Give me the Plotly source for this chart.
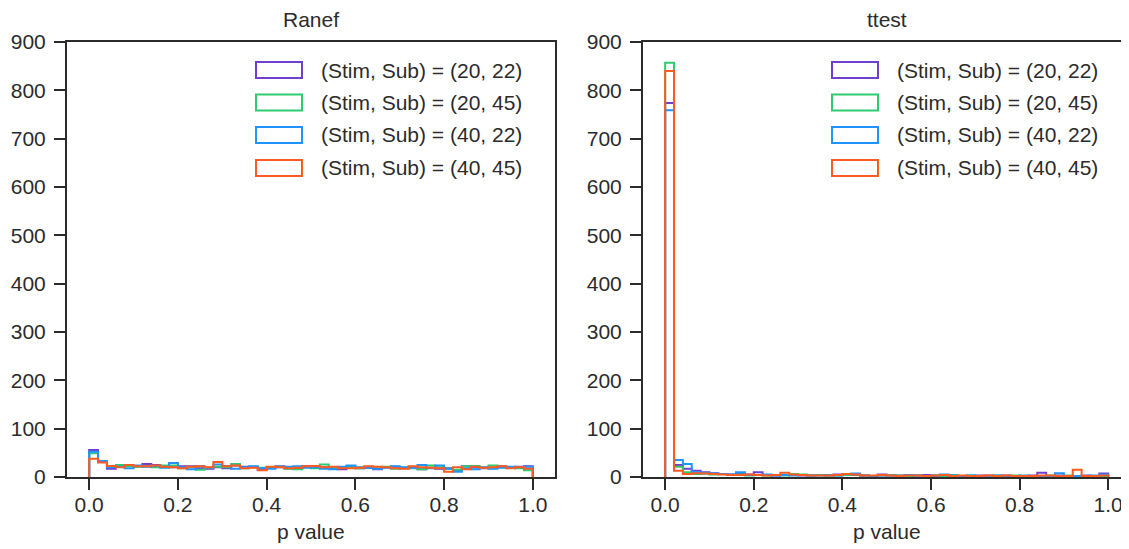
import numpy as np
import plotly.graph_objects as go
from plotly.subplots import make_subplots

# 50 bins over the p value range [0, 1]
bin_edges = np.linspace(0, 1, 51)

labels = ['(Stim, Sub) = (20, 22)', '(Stim, Sub) = (20, 45)',
          '(Stim, Sub) = (40, 22)', '(Stim, Sub) = (40, 45)']
colors = ['#6f3fd0', '#2ecc71', '#1f93ff', '#ff5a1f']

# counts per bin, Ranef panel
ranef_20_22 = [56, 31, 17, 22, 24, 22, 27, 25, 22, 20, 22, 22, 18, 17, 20, 18, 24, 21, 20, 15,
               20, 22, 18, 17, 22, 19, 20, 18, 16, 22, 18, 19, 16, 20, 21, 18, 20, 16, 19, 17,
               18, 14, 22, 20, 18, 19, 22, 20, 21, 22]
ranef_20_45 = [49, 32, 22, 25, 23, 21, 22, 20, 24, 24, 18, 20, 15, 19, 21, 20, 27, 18, 21, 19,
               20, 21, 17, 16, 20, 18, 26, 19, 20, 20, 18, 21, 18, 21, 17, 19, 18, 16, 24, 20,
               17, 15, 22, 23, 19, 24, 20, 19, 18, 14]
ranef_40_22 = [52, 33, 20, 21, 18, 24, 21, 23, 19, 29, 20, 16, 22, 19, 26, 23, 17, 20, 22, 18,
               17, 20, 21, 22, 19, 20, 17, 16, 21, 24, 20, 19, 17, 19, 22, 20, 19, 25, 18, 24,
               17, 11, 18, 16, 20, 17, 19, 21, 20, 21]
ranef_40_45 = [38, 30, 23, 20, 25, 22, 22, 24, 21, 20, 18, 21, 22, 20, 31, 22, 24, 18, 19, 14,
               21, 20, 18, 19, 22, 23, 20, 21, 18, 18, 19, 22, 21, 20, 18, 17, 22, 20, 19, 18,
               11, 20, 16, 21, 19, 20, 22, 18, 20, 17]

# counts per bin, ttest panel
ttest_20_22 = [774, 25, 17, 13, 10, 8, 6, 5, 6, 5, 10, 4, 3, 4, 5, 3, 3, 4, 3, 5,
               5, 4, 3, 2, 5, 3, 3, 2, 3, 4, 2, 3, 4, 2, 2, 3, 3, 2, 3, 2,
               2, 3, 9, 2, 3, 2, 2, 3, 2, 7]
ttest_20_45 = [857, 21, 10, 6, 7, 5, 6, 4, 5, 3, 4, 3, 4, 3, 6, 5, 3, 4, 3, 3,
               4, 5, 3, 2, 3, 4, 3, 2, 3, 2, 3, 2, 4, 2, 3, 2, 2, 3, 2, 3,
               2, 2, 2, 3, 2, 3, 2, 2, 2, 2]
ttest_40_22 = [759, 35, 27, 10, 8, 7, 6, 5, 10, 4, 4, 5, 3, 4, 3, 4, 3, 3, 4, 3,
               6, 7, 3, 2, 3, 3, 2, 4, 3, 2, 3, 5, 3, 2, 3, 2, 2, 3, 2, 2,
               3, 2, 2, 2, 8, 2, 2, 2, 3, 5]
ttest_40_45 = [840, 13, 6, 8, 7, 6, 5, 4, 4, 5, 4, 3, 4, 9, 5, 4, 3, 3, 3, 4,
               6, 5, 3, 3, 4, 3, 2, 3, 3, 2, 3, 4, 2, 3, 2, 2, 3, 2, 3, 2,
               2, 2, 3, 3, 2, 2, 15, 2, 2, 3]

panels = [('Ranef', [ranef_20_22, ranef_20_45, ranef_40_22, ranef_40_45]),
          ('ttest', [ttest_20_22, ttest_20_45, ttest_40_22, ttest_40_45])]

# the page body has an 8px margin, so the figure is made 8px smaller each way
# and reference pixel positions are shifted by that margin
PAGE_PAD = 8
W, H = 1129 - PAGE_PAD, 549 - PAGE_PAD
ink = '#2b2b2b'
font = 'Liberation Sans, Arial, sans-serif'
fsize = 21


def px(x):
    return (x - PAGE_PAD) / W


def py(y):
    return 1 - (y - PAGE_PAD) / H


def step_outline(counts):
    # matplotlib 'step' histogram outline: up from 0, across bins, back down
    xs = [bin_edges[0]] + list(bin_edges) + [bin_edges[-1]]
    ys = [0] + list(counts) + [counts[-1], 0]
    return xs, ys


fig = make_subplots(rows=1, cols=2)

for col, (title, series) in enumerate(panels, start=1):
    for counts, color, name in zip(series, colors, labels):
        xs, ys = step_outline(counts)
        fig.add_trace(go.Scatter(x=xs, y=ys, mode='lines', line_shape='hv',
                                 line=dict(color=color, width=2), name=name,
                                 showlegend=False, hoverinfo='skip'),
                      row=1, col=col)

axis_common = dict(showline=True, linewidth=2, linecolor=ink, showgrid=False, zeroline=False,
                   ticks='outside', ticklen=11, tickwidth=2, tickcolor=ink, automargin=False,
                   tickfont=dict(size=fsize, color=ink, family=font))

left_dom = [px(67), px(555)]
right_dom = [px(643), 1.0]
y_dom = [py(477), py(42)]

fig.update_xaxes(**axis_common)
fig.update_yaxes(**axis_common)
fig.update_xaxes(tickvals=[0, 0.2, 0.4, 0.6, 0.8, 1.0], tickformat='.1f', mirror=True,
                 ticklabelstandoff=-3)
fig.update_yaxes(range=[0, 900], tickvals=list(range(0, 901, 100)), domain=y_dom,
                 ticklabelstandoff=4)
fig.update_xaxes(domain=left_dom, range=[-0.05, 1.05], row=1, col=1)
fig.update_xaxes(domain=right_dom, range=[-0.05, 1.047], row=1, col=2)
fig.update_yaxes(mirror=True, row=1, col=1)
fig.update_yaxes(mirror=False, row=1, col=2)

shapes = []
annotations = []
row_centers = [70, 102.5, 135, 168]
for offset, (title, _), centre in zip([0, 576], panels, [311, 887]):
    annotations.append(dict(x=px(centre), y=py(20), xref='paper', yref='paper', text=title,
                            showarrow=False, xanchor='center', yanchor='middle'))
    annotations.append(dict(x=px(centre), y=py(531), xref='paper', yref='paper', text='p value',
                            showarrow=False, xanchor='center', yanchor='middle'))
    for yc, color, name in zip(row_centers, colors, labels):
        shapes.append(dict(type='rect', xref='paper', yref='paper',
                           x0=px(256 + offset), x1=px(302 + offset),
                           y0=py(yc - 8), y1=py(yc + 8),
                           line=dict(color=color, width=2), fillcolor='rgba(0,0,0,0)'))
        annotations.append(dict(x=px(319 + offset), y=py(yc), xref='paper', yref='paper',
                                text=name, showarrow=False, xanchor='left', yanchor='middle'))

fig.update_layout(template='none', width=W, height=H, margin=dict(l=0, r=0, t=0, b=0, pad=0),
                  font=dict(family=font, size=fsize, color=ink),
                  plot_bgcolor='white', paper_bgcolor='white',
                  shapes=shapes, annotations=annotations, showlegend=False)

fig.write_html("out.html")
